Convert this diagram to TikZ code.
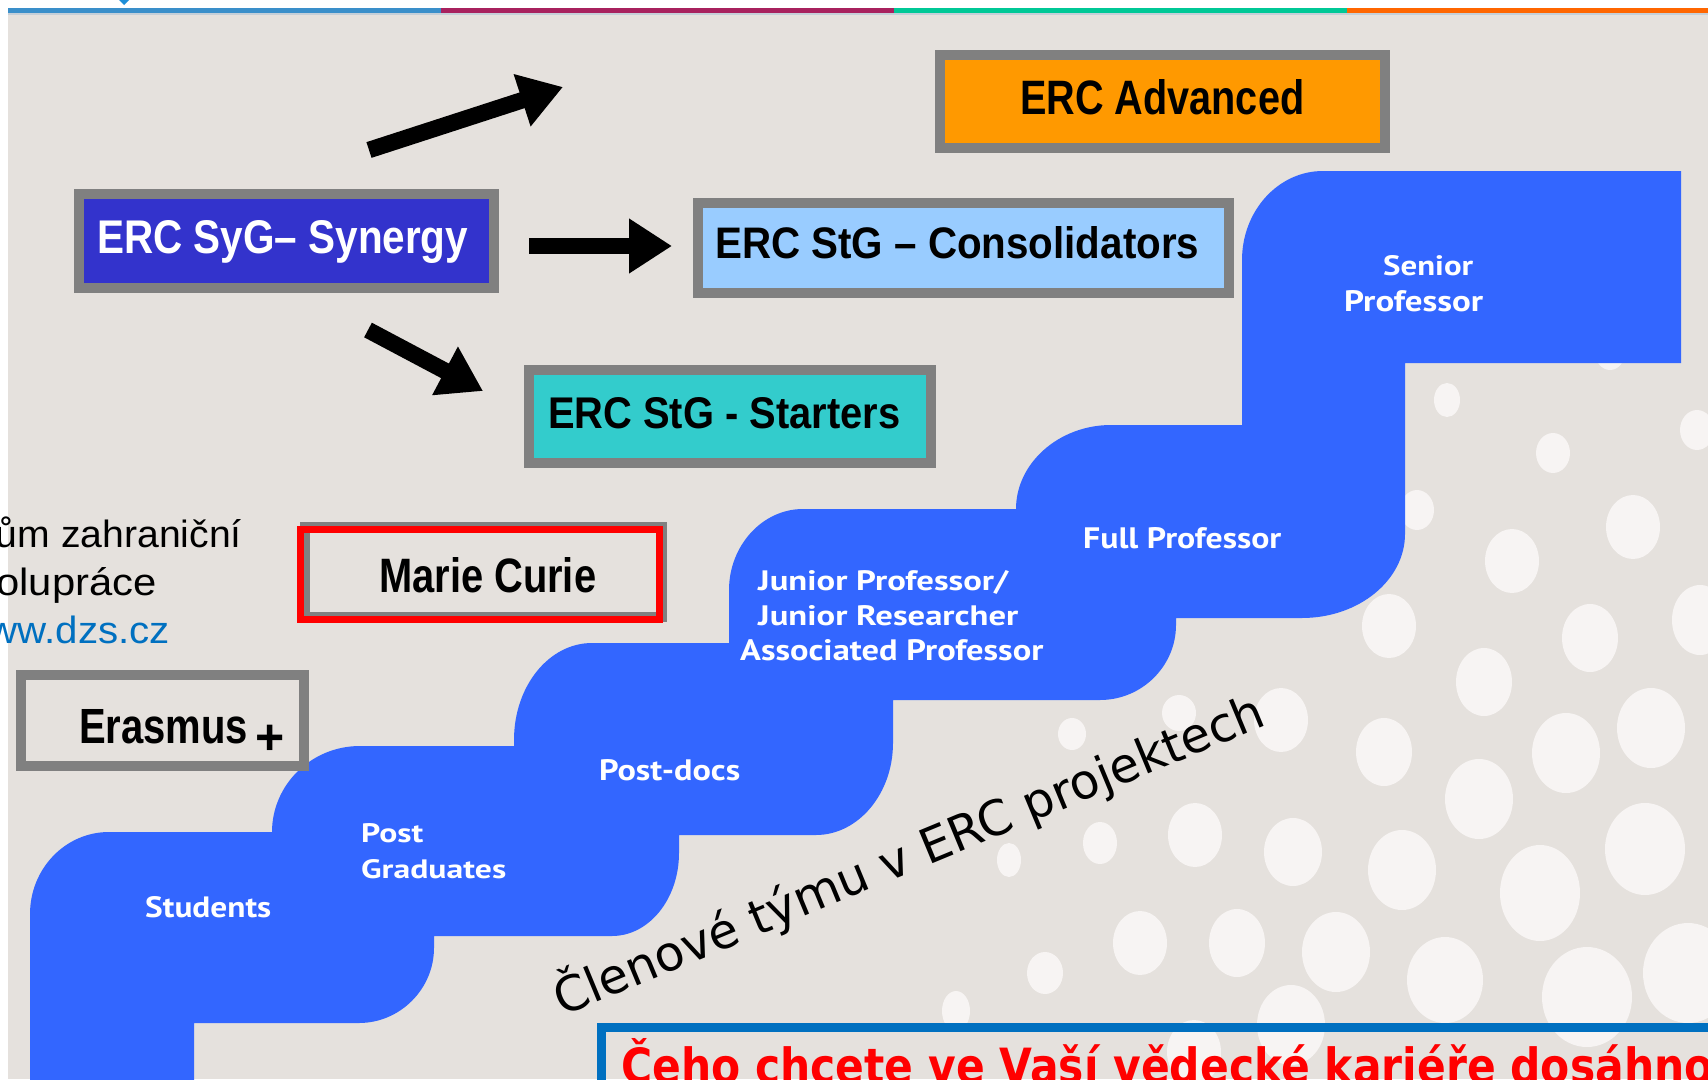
\documentclass[tikz,border=0pt]{standalone}
\usepackage{fontspec}
\usepackage{graphicx}
\usetikzlibrary{arrows.meta}
\setmainfont{Liberation Sans}
\newfontfamily\arialf{Liberation Sans}
\newfontfamily\stairf{PT Sans}
\newfontfamily\dejavuf{DejaVu Sans}
\definecolor{bgbeige}{HTML}{E5E1DD}
\definecolor{dotwhite}{HTML}{F7F4F3}
\definecolor{stairblue}{HTML}{3366FF}
\definecolor{boxgray}{HTML}{808080}
\definecolor{ercorange}{HTML}{FF9900}
\definecolor{ercviolet}{HTML}{3333CC}
\definecolor{erclight}{HTML}{99CCFF}
\definecolor{ercteal}{HTML}{33CCCC}
\definecolor{mcred}{HTML}{FF0000}
\definecolor{goalblue}{HTML}{0070C0}
\definecolor{goalred}{HTML}{FF0000}
\definecolor{linkblue}{HTML}{0070C0}
\definecolor{barblue}{HTML}{3A8FCA}
\definecolor{barmag}{HTML}{A8215E}
\definecolor{bargreen}{HTML}{00C896}
\definecolor{barorange}{HTML}{FF6600}
\definecolor{barshade}{HTML}{C5CFD8}
\definecolor{logoblue}{HTML}{1E8FD8}
\newcommand\fitlbl[3]{\resizebox{#1pt}{#2pt}{#3}}
\begin{document}
\begin{tikzpicture}[x=1pt,y=-1pt,
  ercbox/.style={draw=boxgray, line width=10pt, inner sep=0pt, rectangle},
  boxlbl/.style={inner sep=0pt, anchor=base west, font=\arialf\bfseries},
  stairlbl/.style={inner sep=0pt, anchor=base west, text=white, font=\stairf\bfseries},
  sidetxt/.style={inner sep=0pt, anchor=base east, font=\arialf\fontsize{38}{38}\selectfont},
  blockarrow/.style={line width=16.5pt, draw=black, -{Triangle[width=52pt,length=43pt]}},
]
\useasboundingbox (0,0) rectangle (1708,1079);
\clip (0,0) rectangle (1708,1079);
\fill[white] (0,0) rectangle (1708,1079);
\fill[bgbeige] (8,13) rectangle (1708,1079);
% top bar
\fill[barblue] (8,7.5) rectangle (441,13);
\fill[barmag] (441,7.5) rectangle (894,13);
\fill[bargreen] (894,7.5) rectangle (1347,13);
\fill[barorange] (1347,7.5) rectangle (1708,13);
\fill[barshade] (8,13) rectangle (1708,15);
\fill[logoblue] (119,0) -- (129,0) -- (124,5) -- cycle;
% dots
\foreach \cx/\cy/\rx/\ry in {
 1447/400/13/17, 1553/453/17/20, 1697/430/17/20, 1417/510/17/20, 1512/561/27/32,
 1633/527/27/32, 1610/352/15/18, 1389/626/27/32, 1484/682/28/34, 1590/638/28/34,
 1700/620/28/35, 1281/720/27/32, 1179/713/17/18, 1072/734/14/16, 1384/752/28/34,
 1566/753/34/40, 1651/728/34/40, 1479/799/34/40, 1195/835/27/32, 1100/843/17/21,
 1009/860/12/17, 1293/852/29/34, 1402/870/34/40, 1540/893/40/48, 1645/849/40/46,
 1140/943/27/32, 1237/943/28/34, 1336/952/34/40, 1045/973/18/21, 1445/980/38/43,
 1587/997/45/50, 1688/973/45/50, 1291/1025/34/40, 1194/1052/27/32, 956/1011/14/20}
 \fill[dotwhite] (\cx,\cy) ellipse [x radius=\rx pt, y radius=\ry pt];
% staircase
\fill[stairblue] (30,1090) -- (30,914)
  .. controls (30,869) and (65,832) .. (109,832) -- (272,832)
  .. controls (272,785) and (311,746) .. (360,746) -- (514,746) -- (514,740)
  .. controls (514,686) and (549,643) .. (592,643) -- (729,643) -- (729,590)
  .. controls (729,546) and (762,509) .. (803,509) -- (1016,509)
  .. controls (1016,463) and (1059,425) .. (1111,425) -- (1242,425) -- (1242,260)
  .. controls (1242,211) and (1278,171) .. (1323,171) -- (1681,171) -- (1681,363)
  -- (1405,363) -- (1405,534)
  .. controls (1405,580) and (1359,618) .. (1302,618) -- (1176,618) -- (1176,625)
  .. controls (1176,666) and (1142,700) .. (1100,700) -- (893,700) -- (893,743)
  .. controls (893,794) and (858,835) .. (816,835) -- (679,835) -- (679,853)
  .. controls (679,899) and (649,936) .. (612,936) -- (434,936) -- (434,948)
  .. controls (434,989) and (400,1023) .. (359,1023) -- (194,1023) -- (194,1090) -- cycle;
% stair labels
\node[stairlbl] (sen1) at (1383,275) {\fitlbl{90}{20}{Senior}};
\node[stairlbl] (sen2) at (1344,311) {\fitlbl{139}{21}{Professor}};
\node[stairlbl] (fullp) at (1083,548) {\fitlbl{198}{21}{Full Professor}};
\node[stairlbl] (jun1) at (758,590) {\fitlbl{250}{20}{Junior Professor/}};
\node[stairlbl] (jun2) at (758,625) {\fitlbl{260}{20}{Junior Researcher}};
\node[stairlbl] (jun3) at (740,660) {\fitlbl{303}{21}{Associated Professor}};
\node[stairlbl] (pdoc) at (599,780) {\fitlbl{141}{21}{Post-docs}};
\node[stairlbl] (pg1) at (361,842) {\fitlbl{62}{19}{Post}};
\node[stairlbl] (pg2) at (361,878) {\fitlbl{145}{19}{Graduates}};
\node[stairlbl] (stud) at (145,917) {\fitlbl{126}{21}{Students}};
% ERC boxes
\node[ercbox, fill=ercorange, minimum width=445pt, minimum height=93pt] (adv) at (1162.5,101.5) {};
\node[boxlbl] (advlbl) at (1020,114) {\fitlbl{284}{35}{ERC Advanced}};
\node[ercbox, fill=ercviolet, minimum width=415pt, minimum height=94pt] (syn) at (286.5,241) {};
\node[boxlbl, text=white] (synlbl) at (97,253) {\fitlbl{371}{33}{ERC SyG– Synergy}};
\node[ercbox, fill=erclight, minimum width=531pt, minimum height=90pt] (cons) at (963.5,248) {};
\node[boxlbl] (conslbl) at (715,258) {\fitlbl{484}{32}{ERC StG – Consolidators}};
\node[ercbox, fill=ercteal, minimum width=402pt, minimum height=93pt] (start) at (730,416.5) {};
\node[boxlbl] (startlbl) at (548,428) {\fitlbl{352}{31}{ERC StG - Starters}};
% Marie Curie
\node[ercbox, minimum width=357pt, minimum height=90pt] (mcgray) at (483.5,572) {};
\node[draw=mcred, line width=7pt, inner sep=0pt, minimum width=359pt, minimum height=90pt] (mcbox) at (480,574.5) {};
\node[boxlbl] (mclbl) at (379,592) {\fitlbl{217}{35}{Marie Curie}};
% Erasmus
\node[ercbox, minimum width=283pt, minimum height=91pt] (eras) at (162.5,720.5) {};
\node[boxlbl] (eraslbl) at (79,743) {\fitlbl{169}{34}{Erasmus}};
\node[inner sep=0pt, font=\arialf\bfseries\fontsize{50}{50}\selectfont] (plus) at (270,739.5) {+};
% side text
\node[sidetxt] (dzs1) at (242,547) {\scalebox{1.03}[1]{ům zahraniční}};
\node[sidetxt] (dzs2) at (157,595) {\scalebox{1.1}[1]{olupráce}};
\node[sidetxt, text=linkblue] (dzs3) at (170,643) {\scalebox{1.06}[1]{ww.dzs.cz}};
% arrows
\coordinate (a1s) at (369,150); \coordinate (a1e) at (563,87);
\coordinate (a2s) at (529,246); \coordinate (a2e) at (672,246);
\coordinate (a3s) at (368,330); \coordinate (a3e) at (483,391);
\draw[blockarrow] (a1s) -- (a1e);
\draw[blockarrow] (a2s) -- (a2e);
\draw[blockarrow] (a3s) -- (a3e);
% rotated caption
\node[anchor=base west, inner sep=0pt, rotate=22.5, font=\dejavuf\fontsize{44}{44}\selectfont] (team) at (562,1017) {\resizebox{764pt}{!}{Členové týmu v ERC projektech}};
% goal box
\node[draw=goalblue, line width=8.5pt, inner sep=0pt, anchor=north west, minimum width=1200pt, minimum height=120pt] (goalbox) at (597,1023) {};
\node[anchor=base west, inner sep=0pt, text=goalred, font=\dejavuf\bfseries] (goal) at (621,1083) {\resizebox{1092pt}{45pt}{Čeho chcete ve Vaší vědecké kariéře dosáhno}};
\end{tikzpicture}
\end{document}
